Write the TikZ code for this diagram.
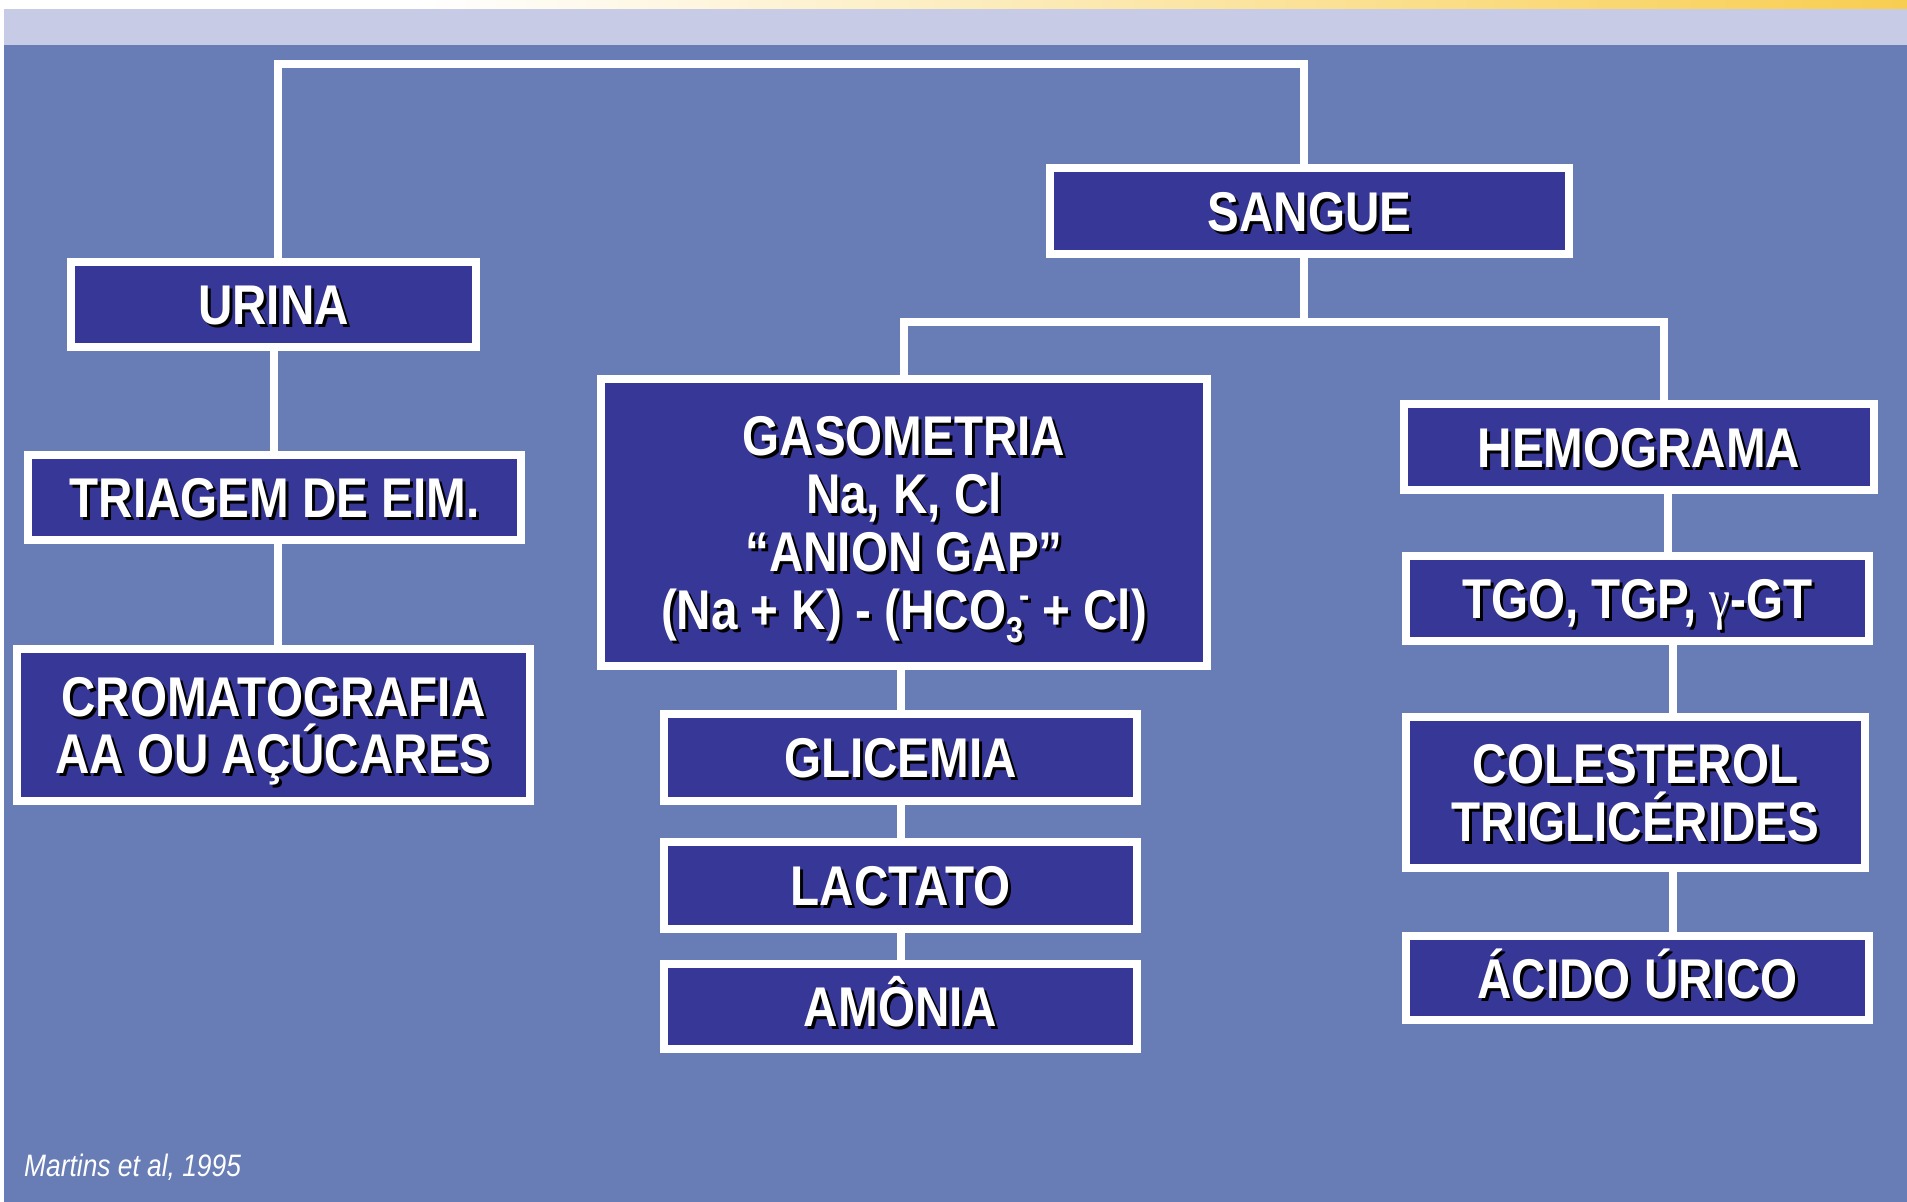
\documentclass[tikz,border=0pt]{standalone}
\usepackage{fontspec}
\setmainfont{Liberation Sans}
\newfontfamily\bfont{Liberation Sans}[FakeStretch=0.85]
\newfontfamily\gfont{Liberation Serif}[FakeStretch=0.85]
\usetikzlibrary{calc}
\definecolor{bgblue}{HTML}{687DB5}
\definecolor{boxblue}{HTML}{363797}
\definecolor{lav}{HTML}{C7CBE5}
\definecolor{gold}{HTML}{F8CE50}
\tikzset{
  box/.style={draw=white, fill=boxblue, line width=8pt, inner sep=0pt},
  conn/.style={draw=white, line width=8pt},
  wtxt/.style={anchor=base, inner sep=0pt, text=white, text height=41pt, text depth=12pt,
    font=\bfont\bfseries\fontsize{56}{58}\selectfont},
  stxt/.style={wtxt, text=black},
}
\newcommand\mkbox[5]{\node[box, minimum width=#4pt, minimum height=#5pt] (#1) at (#2,#3) {};}
\newcommand\tl[4]{%
  \node[stxt] (#1s) at ($(#2.center)+(3,#3+3)$) {#4};
  \node[wtxt] (#1) at ($(#2.center)+(0,#3)$) {#4};}
\newcommand\hcosub{\raisebox{-13pt}{\fontsize{36}{36}\selectfont 3}\kern-4pt\raisebox{22pt}{\fontsize{36}{36}\selectfont -}}
\begin{document}
\begin{tikzpicture}[x=1pt,y=-1pt]
\useasboundingbox (0,0) rectangle (1907,1202);
% background
\fill[white] (0,0) rectangle (1907,1202);
\shade[left color=white, right color=gold] (420,0) rectangle (1907,9);
\fill[lav] (4,9) rectangle (1907,45);
\fill[bgblue] (4,45) rectangle (1907,1202);

% boxes
\mkbox{urina}{273.5}{304.5}{405}{85}
\mkbox{triagem}{274.5}{497.5}{493}{85}
\mkbox{croma}{273.5}{725}{513}{152}
\mkbox{sangue}{1309.5}{211}{519}{86}
\mkbox{gaso}{904}{522.5}{606}{287}
\mkbox{glic}{900.5}{757.5}{473}{87}
\mkbox{lact}{900.5}{885.5}{473}{87}
\mkbox{amon}{900.5}{1006.5}{473}{85}
\mkbox{hemo}{1639}{447}{470}{86}
\mkbox{tgo}{1637.5}{598.5}{463}{85}
\mkbox{col}{1635.5}{792.5}{459}{151}
\mkbox{acido}{1637.5}{978}{463}{84}

% connectors
\coordinate (topy) at (0,64);
\coordinate (jy) at (0,322);
\coordinate (hx) at (1664,0);
\coordinate (hx2) at (1668,0);
\coordinate (hx3) at (1673,0);
\coordinate (ux) at (278,0);
\coordinate (sx) at (1304,0);
\draw[conn] (ux |- urina.north) -- (ux |- topy) -- (sx |- topy) -- (sx |- sangue.north);
\draw[conn] (urina.south) -- (urina.south |- triagem.north);
\draw[conn] (ux |- triagem.south) -- (ux |- croma.north);
\draw[conn] (sx |- sangue.south) -- (sx |- jy);
\draw[conn] (gaso.north) -- (gaso.north |- jy) -- (hx |- jy) -- (hx |- hemo.north);
\draw[conn] (glic.north |- gaso.south) -- (glic.north);
\draw[conn] (glic.south) -- (lact.north);
\draw[conn] (lact.south) -- (amon.north);
\draw[conn] (hx2 |- hemo.south) -- (hx2 |- tgo.north);
\draw[conn] (hx3 |- tgo.south) -- (hx3 |- col.north);
\draw[conn] (hx3 |- col.south) -- (hx3 |- acido.north);

% texts
\tl{urinaT}{urina}{20}{URINA}
\tl{triagemT}{triagem}{20}{TRIAGEM DE EIM.}
\tl{cromaT1}{croma}{-8.5}{CROMATOGRAFIA}
\tl{cromaT2}{croma}{48.5}{AA OU AÇÚCARES}
\tl{sangueT}{sangue}{20}{SANGUE}
\tl{gasoT1}{gaso}{-67}{GASOMETRIA}
\tl{gasoT2}{gaso}{-9}{Na, K, Cl}
\tl{gasoT3}{gaso}{49}{“ANION GAP”}
\tl{gasoT4}{gaso}{107}{(Na + K) - (HCO\hcosub{} + Cl)}
\tl{glicT}{glic}{20}{GLICEMIA}
\tl{lactT}{lact}{20}{LACTATO}
\tl{amonT}{amon}{20}{AMÔNIA}
\tl{hemoT}{hemo}{20}{HEMOGRAMA}
\tl{tgoT}{tgo}{20}{TGO, TGP, {\gfont\mdseries γ}-GT}
\tl{colT1}{col}{-9}{COLESTEROL}
\tl{colT2}{col}{49}{TRIGLICÉRIDES}
\tl{acidoT}{acido}{20}{ÁCIDO ÚRICO}

\node[anchor=base west, inner sep=0pt, text=white, font=\bfont\itshape\fontsize{31}{31}\selectfont] (cite) at (24,1176) {Martins et al, 1995};
\end{tikzpicture}
\end{document}
